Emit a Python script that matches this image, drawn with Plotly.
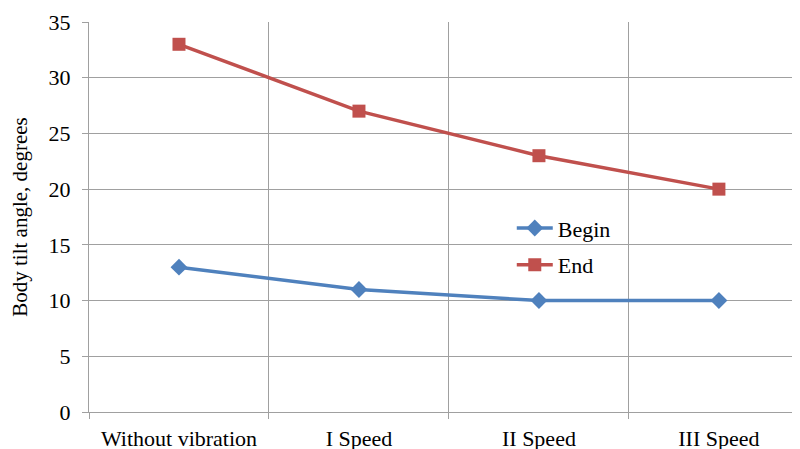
import plotly.graph_objects as go

categories = ["Without vibration", "I Speed", "II Speed", "III Speed"]
begin_vals = [13, 11, 10, 10]
end_vals = [33, 27, 23, 20]
y_ticks = [0, 5, 10, 15, 20, 25, 30, 35]

font_family = "Liberation Serif"

fig = go.Figure()
fig.add_trace(go.Scatter(
    x=categories, y=begin_vals, name="Begin", mode="lines+markers",
    legendgroup="b",
    line=dict(color="#4F81BD", width=3.5),
    marker=dict(symbol="diamond", size=13, color="#4F81BD"),
))
fig.add_trace(go.Scatter(
    x=categories, y=end_vals, name="End", mode="lines+markers",
    legendgroup="e",
    line=dict(color="#C0504D", width=3.5),
    marker=dict(symbol="square", size=13, color="#C0504D"),
))

fig.update_layout(
    width=800, height=449,
    margin=dict(l=81, r=0, t=14, b=45),
    paper_bgcolor="white", plot_bgcolor="white",
    font=dict(family=font_family, size=22, color="black"),
    showlegend=True,
    legend=dict(x=0.588, y=0.525, xanchor="left", yanchor="top",
                bgcolor="rgba(0,0,0,0)", font=dict(family=font_family, size=22),
                tracegroupgap=5, itemwidth=36),
    xaxis=dict(
        type="category", range=[-0.5, 3.495], automargin=False,
        tickson="boundaries", ticks="outside", ticklen=6, tickcolor="#A0A0A0",
        showgrid=True, gridcolor="#A0A0A0", gridwidth=1.3,
        showline=True, linecolor="#A0A0A0", linewidth=1.3,
        tickfont=dict(family=font_family, size=22, color="black"),
        zeroline=False, ticklabelstandoff=6,
    ),
    yaxis=dict(
        range=[0, 35], tickvals=y_ticks, automargin=False,
        ticks="outside", ticklen=6, tickcolor="#A0A0A0",
        showgrid=True, gridcolor="#A0A0A0", gridwidth=1.3,
        showline=True, linecolor="#A0A0A0", linewidth=1.3,
        zeroline=False, tickfont=dict(family=font_family, size=22, color="black"),
        ticklabelstandoff=7,
        title=dict(text="Body tilt angle, degrees",
                   font=dict(family=font_family, size=21, color="black"), standoff=18),
    ),
)

fig.write_html("out.html")
